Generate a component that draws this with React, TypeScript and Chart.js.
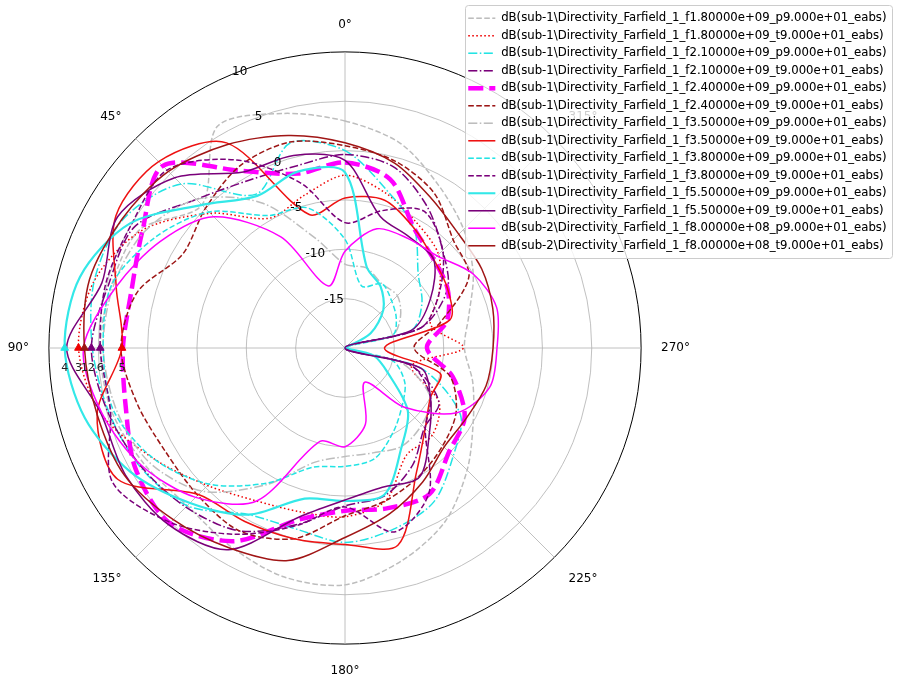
import { useEffect, useRef } from 'react';
import { Chart, registerables } from 'chart.js';

Chart.register(...registerables);

// angle categories: degrees counter-clockwise from the top
const angles = [0, 15, 30, 45, 60, 75, 90, 105, 120, 135, 150, 165, 180, 195, 210, 225, 240, 255, 270, 285, 300, 315, 330, 345];
const radialTicks = [-15, -10, -5, 0, 5, 10];

// dB values, one per angle above
const f18p = [3, 4.6, 5.9, 0.5, 4.0, 4.5, 4.8, 4.5, 3.5, 2.6, 3.2, 4.0, 4.0, 2.3, 0.3, -2.5, -5, -6.6, -7.9, -7, -5, -3, -1, 1.5];
const f18t = [-2.5, -4.0, -4.8, -0.7, 3.8, 6.3, 7.0, 5.6, 2.4, -0.3, -2.1, -2.8, -2.9, -4.0, -7.5, -7.5, -9, -13, -8, -11, -9, -6.6, -5.4, -3.8];
const f21p = [0, 1.5, -2.0, 3.5, 6.0, 6.3, 5.6, 4.8, 4.0, 2.6, -0.5, -1.0, -0.3, -1.0, -2.0, -4.5, -6.5, -12, -20, -13, -11, -9.5, -6, -3.5];
const f21t = [-0.4, -0.9, -0.4, 1.3, 4.6, 4.8, 5.7, 4.9, 3.9, 2.8, 1.4, -1.5, -4.0, -4.5, -6.3, -8.6, -9, -13, -20, -12, -8, -6, -3.4, -1];
const f24p = [-1.2, -1.7, 0.7, 6.1, 3.7, 2.4, 2.5, 3.0, 4.5, 5.1, 2.6, -2.0, -3.5, -3.2, -2.9, -5.1, -6.0, -8.7, -11.7, -9.3, -8.0, -7.3, -6.0, -2.3];
const f24t = [0.5, 1.6, 1.3, 0.0, -1.0, 1.8, 2.7, 1.8, 1.0, 1.1, 1.4, 0, -3.0, -4.0, -5.0, -6.0, -7.0, -9, -13, -10, -5.5, -4.5, -1.9, -0.4];
const f35p = [-11.5, -8.5, -3.0, 1.3, 3.5, 4.3, 4.5, 4.0, 3.0, 0.5, -4.0, -8.0, -9.0, -9.0, -8.5, -9, -10, -14, -20, -15, -13.5, -12.5, -12.5, -11.6];
const f35t = [-4.8, -6.0, 4.0, 6.7, 6.8, 4.0, 2.6, 6.0, 6.6, 1.0, 0.3, 0.0, -0.1, 0.7, -5.5, -8.5, -10, -10, -16, -9, -8, -7.3, -6.0, -4.5];
const f38p = [-9, -5.3, -4.5, -0.5, 2.3, 4.5, 4.5, 4.3, 2.4, -0.5, -4.2, -7.5, -8.0, -8.4, -10.2, -11.8, -13, -15, -20, -15, -14, -13.3, -12.5, -13.5];
const f38t = [-7.3, -2.7, 2.0, 5.5, 5.0, 5.1, 4.8, 4.6, 7.2, 5.0, 1.8, -1.4, -3.9, -0.7, -3.0, -8.5, -10, -13, -20, -12, -9, -6, -4.0, -5.6];
const f55p = [-2.2, -1.5, -2.2, 0.5, 5.2, 7.8, 8.4, 7.3, 5.1, 2.2, -0.5, -4.2, -4.5, -4.6, -8.5, -11, -15, -17, -20, -20, -17, -14.5, -12.8, -11.5];
const f55t = [-1.0, 0.2, 0.6, 4.4, 6.6, 5.5, 8.2, 5.6, 5.7, 5.3, 3.6, -2.3, -4.6, -5.4, -4.9, -7.9, -10, -12, -20, -13, -10, -7.3, -7.0, -6.2];
const f08p = [-10.2, -13.5, -7, -1.2, 1.6, 4, 6.5, 5.5, 3.8, 1.4, -2.1, -10.2, -10, -12, -16, -11.5, -6.9, -4.8, -4.6, -4.1, -5.0, -6.8, -7.2, -7.5];
const f08t = [0.8, 2.3, 3.8, 5.3, 6.1, 6.8, 6.4, 6.0, 5.8, 4.6, 3.4, 2.3, -0.8, -2.6, -4.3, -5.8, -5.8, -5.2, -5.0, -4.5, -4.0, -3.7, -2.5, -0.6];

const seriesNames = [
  'dB(sub-1\\Directivity_Farfield_1_f1.80000e+09_p9.000e+01_eabs)',
  'dB(sub-1\\Directivity_Farfield_1_f1.80000e+09_t9.000e+01_eabs)',
  'dB(sub-1\\Directivity_Farfield_1_f2.10000e+09_p9.000e+01_eabs)',
  'dB(sub-1\\Directivity_Farfield_1_f2.10000e+09_t9.000e+01_eabs)',
  'dB(sub-1\\Directivity_Farfield_1_f2.40000e+09_p9.000e+01_eabs)',
  'dB(sub-1\\Directivity_Farfield_1_f2.40000e+09_t9.000e+01_eabs)',
  'dB(sub-1\\Directivity_Farfield_1_f3.50000e+09_p9.000e+01_eabs)',
  'dB(sub-1\\Directivity_Farfield_1_f3.50000e+09_t9.000e+01_eabs)',
  'dB(sub-1\\Directivity_Farfield_1_f3.80000e+09_p9.000e+01_eabs)',
  'dB(sub-1\\Directivity_Farfield_1_f3.80000e+09_t9.000e+01_eabs)',
  'dB(sub-1\\Directivity_Farfield_1_f5.50000e+09_p9.000e+01_eabs)',
  'dB(sub-1\\Directivity_Farfield_1_f5.50000e+09_t9.000e+01_eabs)',
  'dB(sub-2\\Directivity_Farfield_1_f8.00000e+08_p9.000e+01_eabs)',
  'dB(sub-2\\Directivity_Farfield_1_f8.00000e+08_t9.000e+01_eabs)',
];
const seriesData = [f18p, f18t, f21p, f21t, f24p, f24t, f35p, f35t, f38p, f38t, f55p, f55t, f08p, f08t];

const DASHED = [5.5, 2.5];
const DOTTED = [1.5, 2.5];
const DASHDOT = [9, 2.5, 1.5, 2.5];
const seriesColors = ['#bdbdbd', '#ee0000', '#22e4e4', '#7a007a', '#ff00ff', '#9c1515', '#bdbdbd', '#ee1111', '#22e4e4', '#7a007a', '#33e8e8', '#7a007a', '#ff00ff', '#a01515'];
const seriesDash = [DASHED, DOTTED, DASHDOT, DASHDOT, [15, 6], DASHED, DASHDOT, [], DASHED, DASHED, [], [], [], []];
const seriesWidth = [1.5, 1.5, 1.5, 1.5, 4.5, 1.5, 1.5, 1.5, 1.5, 1.5, 2.2, 1.5, 1.5, 1.5];

// numbered markers on the 90° spoke
const markerAngle = 90;
const markerNames = ['1', '2', '3', '4', '5', '6'];
const markerValues = [6.4, 5.7, 7.0, 8.4, 2.6, 4.8];
const markerColors = ['#9c1515', '#7a007a', '#ee0000', '#22e4e4', '#ee0000', '#7a007a'];

// radar runs clockwise, the reference runs counter-clockwise
const toClockwise = (arr: any[]) => arr.map((_, k) => arr[(arr.length - k) % arr.length]);

const legendBox = { x: 465.5, y: 5.5, w: 427, h: 253 };

const overlayPlugin = {
  id: 'overlay',
  afterLayout(chart: any) {
    const lg = chart.legend;
    if (!lg) return;
    lg.left = 462.5;
    lg.top = 6.6;
    lg.right = lg.left + lg.width;
    lg.bottom = lg.top + 252;
  },
  afterDatasetsDraw(chart: any) {
    const r = chart.scales.r;
    const ctx = chart.ctx;
    ctx.save();
    ctx.fillStyle = '#000';
    ctx.textAlign = 'center';
    ctx.textBaseline = 'middle';
    ctx.font = '12px "DejaVu Sans"';
    const a = (22.5 * Math.PI) / 180;
    radialTicks.forEach((v) => {
      const d = r.getDistanceFromCenterForValue(v);
      ctx.fillText(String(v), r.xCenter - d * Math.sin(a) + 8, r.yCenter - d * Math.cos(a) - 3);
    });
    ctx.font = '11px "DejaVu Sans"';
    ctx.fillStyle = '#222';
    const idx = chart.data.labels.indexOf(markerAngle);
    markerNames.forEach((name, i) => {
      const pt = chart.getDatasetMeta(seriesData.length + i).data[idx];
      if (pt) ctx.fillText(name, pt.x, pt.y + 20);
    });
    ctx.restore();
  },
  afterDraw(chart: any) {
    const ctx = chart.ctx;
    ctx.save();
    ctx.beginPath();
    ctx.roundRect(legendBox.x, legendBox.y, legendBox.w, legendBox.h, 3);
    ctx.fillStyle = 'rgba(255,255,255,0.8)';
    ctx.fill();
    ctx.strokeStyle = '#cccccc';
    ctx.lineWidth = 1;
    ctx.stroke();
    ctx.restore();
    chart.legend.draw();
  },
};

export default function App() {
  const canvasRef = useRef<HTMLCanvasElement>(null);

  useEffect(() => {
    if (!canvasRef.current) return;
    const labels = toClockwise(angles);

    const series = seriesData.map((vals, i) => ({
      label: seriesNames[i],
      data: toClockwise(vals),
      borderColor: seriesColors[i],
      backgroundColor: 'transparent',
      borderDash: seriesDash[i],
      borderWidth: seriesWidth[i],
      borderJoinStyle: 'round',
      fill: false,
      tension: 0.3,
      pointRadius: 0,
      pointHitRadius: 0,
      order: seriesData.length - i,
    }));

    const markers = markerValues.map((v, i) => ({
      label: 'marker ' + markerNames[i],
      data: toClockwise(angles.map((a) => (a === markerAngle ? v : null))),
      showLine: false,
      borderWidth: 0,
      pointStyle: 'triangle',
      pointRadius: 4.5,
      pointBackgroundColor: markerColors[i],
      pointBorderColor: markerColors[i],
      pointBorderWidth: 1,
      order: 0,
    }));

    const chart = new Chart(canvasRef.current, {
      type: 'radar',
      data: { labels, datasets: [...series, ...markers] },
      options: {
        animation: false,
        responsive: true,
        maintainAspectRatio: false,
        events: [],
        layout: { padding: { left: 4, right: 206, top: 17, bottom: 9 } },
        scales: {
          r: {
            min: -20,
            max: 10,
            ticks: { display: false, stepSize: 5 },
            grid: {
              circular: true,
              color: (c: any) => (c.tick && c.tick.value === 10 ? '#000' : '#b0b0b0'),
              lineWidth: (c: any) => (c.tick && c.tick.value === 10 ? 1 : 0.8),
            },
            angleLines: {
              display: true,
              color: '#b0b0b0',
              lineWidth: (c: any) => (c.index % 3 === 0 ? 0.8 : 0),
            },
            pointLabels: {
              display: true,
              padding: 20,
              color: '#000',
              font: { family: 'DejaVu Sans', size: 12 },
              callback: (a: any) => (a % 45 === 0 ? `${a}°` : ''),
            },
          },
        },
        plugins: {
          tooltip: { enabled: false },
          legend: {
            display: true,
            position: 'chartArea',
            align: 'start',
            labels: {
              color: '#000',
              font: { family: 'DejaVu Sans', size: 11.7 },
              padding: 5.8,
              boxWidth: 27,
              usePointStyle: true,
              pointStyleWidth: 27,
              generateLabels: (c: any) =>
                c.data.datasets.slice(0, seriesData.length).map((ds: any, i: number) => ({
                  text: ds.label,
                  fontColor: '#000',
                  strokeStyle: ds.borderColor,
                  fillStyle: ds.borderColor,
                  lineWidth: ds.borderWidth,
                  lineDash: ds.borderDash,
                  pointStyle: 'line',
                  hidden: false,
                  datasetIndex: i,
                })),
            },
          },
        },
      },
      plugins: [overlayPlugin],
    } as any);

    return () => { chart.destroy(); };
  }, []);

  return (
    <div style={{ position: 'absolute', left: 0, top: 0, width: 900, height: 688 }}>
      <canvas ref={canvasRef} />
    </div>
  );
}
